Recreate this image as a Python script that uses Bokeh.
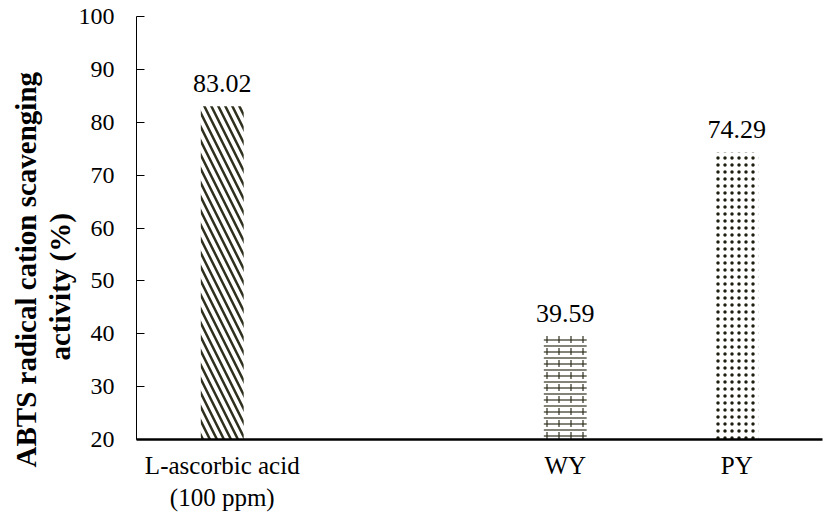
from bokeh.plotting import figure
from bokeh.models import ColumnDataSource, FixedTicker, Range1d, Title
from bokeh.core.properties import value
from bokeh.embed import file_html
from bokeh.resources import INLINE

categories = ["L-ascorbic acid\n(100 ppm)", "WY", "PY"]
positions = [0.5, 2.5, 3.5]
values = [83.02, 39.59, 74.29]
labels = ["83.02", "39.59", "74.29"]
y_ticks = [20, 30, 40, 50, 60, 70, 80, 90, 100]
y_title_1 = "ABTS radical cation scavenging"
y_title_2 = "activity (%)"

FONT = "Liberation Serif"
INK = "#2f2f1e"

p = figure(frame_width=686, frame_height=423, output_backend="svg", toolbar_location=None,
           x_range=Range1d(0, 4.0), y_range=Range1d(20, 100),
           min_border_left=136, min_border_right=5, min_border_top=16, min_border_bottom=77)
p.outline_line_color = None
p.grid.visible = False
p.background_fill_color = "white"

src = ColumnDataSource(dict(x=positions, top=values))

def bar(i, pattern, scale, weight, color=INK):
    s = ColumnDataSource(dict(x=[positions[i]], top=[values[i]]))
    p.vbar(x="x", top="top", bottom=20, width=0.25, source=s,
           fill_color=None, fill_alpha=0, line_color=None,
           hatch_pattern=pattern, hatch_color=color, hatch_scale=scale,
           hatch_weight=weight)

# white bases
p.vbar(x="x", top="top", bottom=20, width=0.25, source=src, fill_color="white", line_color=None)
bar(0, "\\", 14, 2.5)
bar(1, "-", 6, 1.2)
bar(1, ":", 12, 1.2)
bar(2, ".", 7, 3.5, "#1e1e10")

lsrc = ColumnDataSource(dict(x=positions, y=values, t=labels))
p.text(x="x", y="y", text="t", source=lsrc, text_align="center", text_baseline="bottom",
       y_offset=-14, text_font=value(FONT), text_font_size="26px", text_color="black")

# x axis
xa = p.xaxis[0]
xa.ticker = FixedTicker(ticks=positions)
xa.major_label_overrides = {positions[i]: categories[i] for i in range(3)}
xa.major_tick_line_color = None
xa.minor_tick_line_color = None
xa.axis_line_width = 2.5
xa.axis_line_color = "black"
xa.major_label_text_font = FONT
xa.major_label_text_font_size = "25px"
xa.major_label_text_color = "black"
xa.major_label_standoff = 6

# y axis
ya = p.yaxis[0]
ya.ticker = FixedTicker(ticks=y_ticks)
ya.minor_tick_line_color = None
ya.major_tick_in = 8
ya.major_tick_out = 0
ya.axis_line_color = "black"
ya.major_tick_line_color = "black"
ya.major_label_text_font = FONT
ya.major_label_text_font_size = "24px"
ya.major_label_text_color = "black"
ya.major_label_standoff = 22

t2 = Title(text=y_title_2, align="left", offset=79, text_font=FONT,
           text_font_size="29px", text_font_style="bold", text_color="black", standoff=0)
t1 = Title(text=y_title_1, align="left", offset=-28, text_font=FONT,
           text_font_size="29px", text_font_style="bold", text_color="black", standoff=0)
p.add_layout(t2, "left")
p.add_layout(t1, "left")

open("out.html", "w").write(file_html(p, INLINE))
